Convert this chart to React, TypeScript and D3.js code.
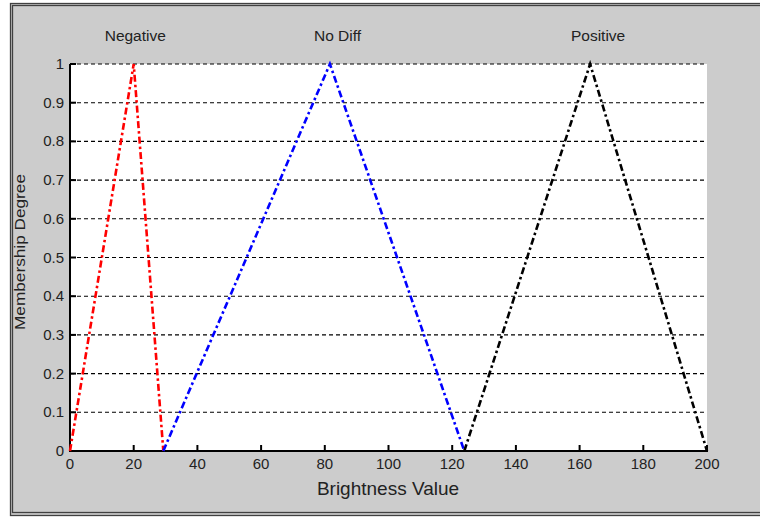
import React from "react";
import * as d3 from "d3";

const xTicks = [0, 20, 40, 60, 80, 100, 120, 140, 160, 180, 200];
const yTicks = [0, 0.1, 0.2, 0.3, 0.4, 0.5, 0.6, 0.7, 0.8, 0.9, 1];
const yTickLabels = ["0", "0.1", "0.2", "0.3", "0.4", "0.5", "0.6", "0.7", "0.8", "0.9", "1"];

const seriesNames = ["Negative", "No Diff", "Positive"];
const seriesColors = ["#ff0000", "#0000ff", "#000000"];
const negativeX = [0, 20, 29.3];
const negativeY = [0, 1, 0];
const noDiffX = [29.3, 81.6, 123.8];
const noDiffY = [0, 1, 0];
const positiveX = [123.8, 163.3, 200];
const positiveY = [0, 1, 0];
const labelX = [20.5, 84, 165.8];

const W = 760;
const H = 519;
const left = 70;
const right = 707;
const top = 64;
const bottom = 451;

export default function App() {
  const x = d3.scaleLinear().domain([0, 200]).range([left, right]);
  const y = d3.scaleLinear().domain([0, 1]).range([bottom, top]);
  const line = d3
    .line<[number, number]>()
    .x((d) => x(d[0]))
    .y((d) => y(d[1]));
  const series = [
    [negativeX, negativeY],
    [noDiffX, noDiffY],
    [positiveX, positiveY],
  ].map(([xs, ys]) => xs.map((v, i) => [v, ys[i]] as [number, number]));

  const font = "Arial, 'Liberation Sans', sans-serif";

  return (
    <div style={{ position: "absolute", left: 0, top: 0 }}>
      <svg width={W} height={H} style={{ display: "block" }}>
        <rect x={0} y={0} width={W} height={H} fill="#ffffff" />
        <rect x={10} y={3} width={W} height={513} fill="#cccccc" />
        <rect x={10.5} y={3.5} width={W + 10} height={512} fill="none" stroke="#404040" strokeWidth={1.3} />
        <rect x={12.5} y={5.5} width={W + 10} height={507} fill="none" stroke="#404040" strokeWidth={1.3} />
        <rect x={left} y={top} width={right - left} height={bottom - top} fill="#ffffff" />
        {yTicks.slice(1).map((t) => (
          <line
            key={"g" + t}
            x1={left}
            x2={right}
            y1={y(t)}
            y2={y(t)}
            stroke="#000"
            strokeWidth={1.1}
            strokeDasharray="4,3"
          />
        ))}
        <line x1={left} x2={left} y1={top} y2={bottom} stroke="#000" strokeWidth={2} />
        <line x1={left - 1} x2={right + 1} y1={bottom} y2={bottom} stroke="#000" strokeWidth={2} />
        {xTicks.map((t) => (
          <g key={"xt" + t}>
            <line x1={x(t)} x2={x(t)} y1={bottom} y2={bottom - 6} stroke="#000" strokeWidth={2} />
            <text x={x(t)} y={469} textAnchor="middle" fontSize={15} fontFamily={font} fill="#222">
              {t}
            </text>
          </g>
        ))}
        {yTicks.map((t, i) => (
          <g key={"yt" + t}>
            <line x1={left} x2={left + 6} y1={y(t)} y2={y(t)} stroke="#000" strokeWidth={2} />
            <text x={64} y={y(t) + 5} textAnchor="end" fontSize={15} fontFamily={font} fill="#222">
              {yTickLabels[i]}
            </text>
          </g>
        ))}
        {series.map((pts, i) => (
          <path
            key={"s" + i}
            d={line(pts) || ""}
            fill="none"
            stroke={seriesColors[i]}
            strokeWidth={2.6}
            strokeDasharray="7,3,2.5,3"
          />
        ))}
        {seriesNames.map((n, i) => (
          <text key={"l" + n} x={x(labelX[i])} y={41} textAnchor="middle" fontSize={15.5} fontFamily={font} fill="#222">
            {n}
          </text>
        ))}
        <text x={388} y={495} textAnchor="middle" fontSize={19} fontFamily={font} fill="#222">
          Brightness Value
        </text>
        <text
          transform={`translate(25, 252) rotate(-90)`}
          textAnchor="middle"
          fontSize={14.5}
          fontFamily={font}
          fill="#222"
          textLength={156}
          lengthAdjust="spacingAndGlyphs"
        >
          Membership Degree
        </text>
      </svg>
    </div>
  );
}
